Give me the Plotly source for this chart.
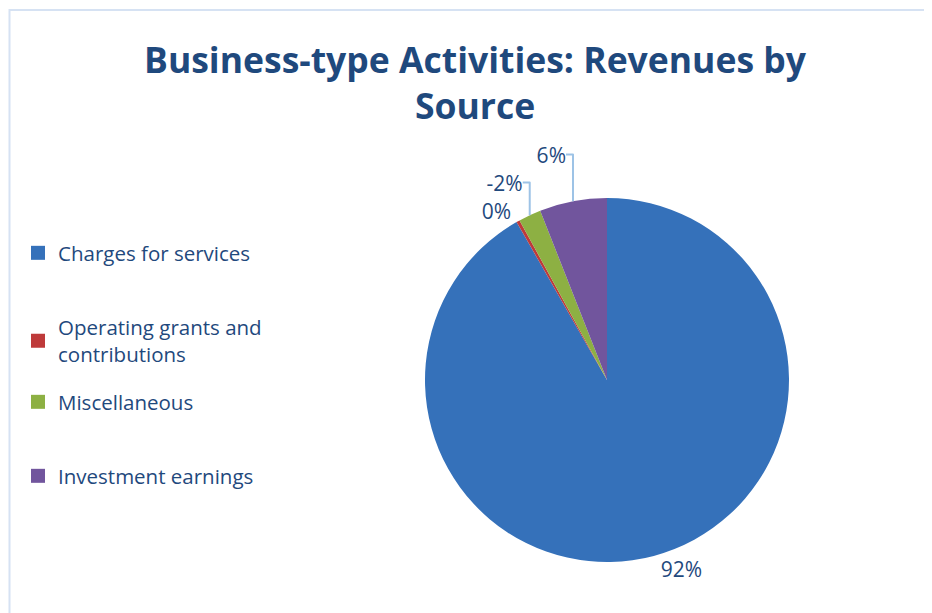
import plotly.graph_objects as go

categories = ["Charges for services", "Operating grants and contributions", "Miscellaneous", "Investment earnings"]
legend_names = ["Charges for services", "Operating grants and<br>contributions", "Miscellaneous", "Investment earnings"]
shares = [92, 0.3, -2, 6]          # percent of revenues (as labeled)
label_text = ["92%", "0%", "-2%", "6%"]
colors = ["#3571BA", "#BE3A3A", "#8DB043", "#71559D"]

OFF = 8                    # browser body margin
W, H = 932 - OFF, 613 - OFF
TXT = "#1F497D"
LINE = "#9DC3E6"
FONT = "Open Sans"


def px(x):
    return (x - OFF) / W


def py(y):
    return 1 - (y - OFF) / H


fig = go.Figure()

fig.add_trace(go.Pie(
    labels=categories,
    values=[abs(v) for v in shares],
    text=[f"<span style='color:{TXT}'>{t}</span>" for t in label_text],
    texttemplate="%{text}",
    textposition="outside",
    textfont=dict(size=21, color=LINE, family=FONT),
    marker=dict(colors=colors, line=dict(width=0)),
    sort=False,
    direction="clockwise",
    rotation=0,
    showlegend=False,
    hoverinfo="label",
    domain=dict(x=[px(425), px(789)], y=[py(562), py(198)]),
))

legend_y = [253, 341, 402, 476]
for i, (nm, c) in enumerate(zip(legend_names, colors)):
    key = "legend" if i == 0 else f"legend{i+1}"
    fig.add_trace(go.Scatter(
        x=[None], y=[None], mode="markers", name=nm,
        marker=dict(symbol="square", size=14, color=c),
        legend=key, showlegend=True,
    ))
    fig.update_layout(**{key: dict(
        x=px(18), y=py(legend_y[i]), xanchor="left", yanchor="middle",
        font=dict(size=20.5, color=TXT, family=FONT),
        bgcolor="rgba(0,0,0,0)", itemwidth=30, tracegroupgap=0,
    )})

fig.update_layout(
    width=W, height=H,
    margin=dict(l=0, r=0, t=0, b=0),
    paper_bgcolor="white", plot_bgcolor="white",
    title=dict(
        text="<b>Business-type Activities: Revenues by<br>Source</b>",
        x=px(475), xanchor="center", y=1 - 65 / H, yanchor="top",
        font=dict(size=35.5, color=TXT, family=FONT),
    ),
    xaxis=dict(visible=False), yaxis=dict(visible=False),
    shapes=[dict(type="rect", xref="paper", yref="paper",
                 x0=px(9.5), x1=1.2, y0=-0.2, y1=py(10),
                 line=dict(color="#D6E2F3", width=2), fillcolor="rgba(0,0,0,0)", layer="below")],
)

fig.write_html("out.html")
